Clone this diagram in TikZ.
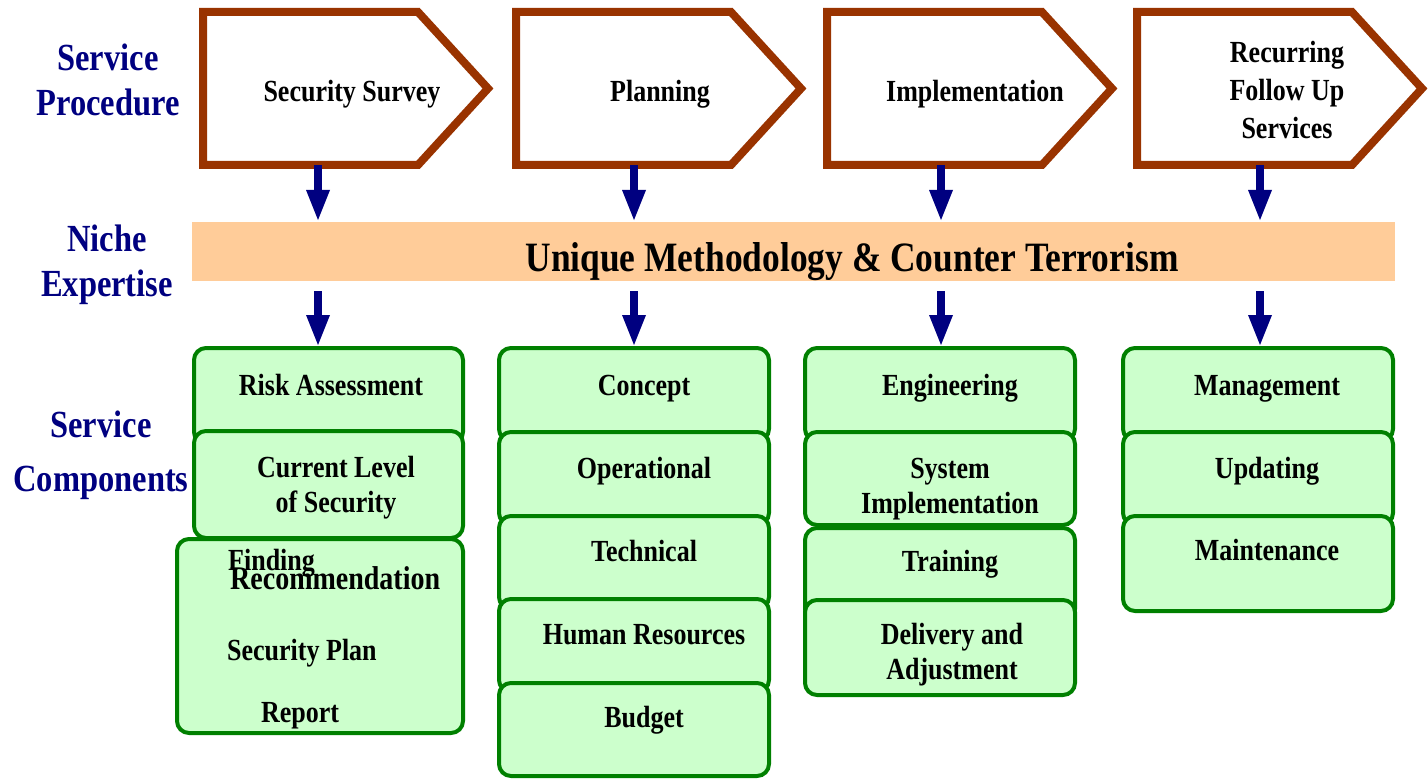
\documentclass[tikz,border=0pt]{standalone}
\usepackage{fontspec}
\setmainfont{Liberation Serif}
\usetikzlibrary{arrows.meta,calc}
\definecolor{brownc}{HTML}{993300}
\definecolor{barc}{HTML}{FFCC99}
\definecolor{greenfill}{HTML}{CCFFCC}
\definecolor{greenline}{HTML}{008000}
\definecolor{navyc}{HTML}{000080}
\newcommand\stx[2][1.18]{\scalebox{1}[#1]{\begin{tabular}{@{}c@{}}#2\end{tabular}}}
\tikzset{
  pbody/.style={minimum width=215pt, minimum height=153pt, inner sep=0pt, outer sep=0pt},
  pentline/.style={draw=brownc, line width=8pt, fill=white},
  gbox/.style={draw=greenline, fill=greenfill, line width=4pt, rounded corners=12pt, inner sep=0pt, outer sep=0pt, minimum width=270pt},
  boxtxt/.style={font=\fontsize{26}{30}\selectfont\bfseries, inner sep=0pt, yshift=-3pt},
  ptxt/.style={font=\fontsize{26}{32}\selectfont\bfseries, inner sep=0pt, yshift=-3pt},
  sidetxt/.style={font=\fontsize{32.5}{38}\selectfont\bfseries, text=navyc, inner sep=0pt, yshift=-4pt},
  sidetxtb/.style={font=\fontsize{32.5}{46}\selectfont\bfseries, text=navyc, inner sep=0pt, yshift=-3pt},
  bartxt/.style={font=\fontsize{35.4}{40}\selectfont\bfseries, inner sep=0pt, yshift=-4pt},
  arr/.style={draw=navyc, line width=8pt, -{Triangle[width=24pt,length=30pt,line width=0pt]}},
}
\begin{document}
\begin{tikzpicture}[x=1pt,y=-1pt]
\useasboundingbox (0,0) rectangle (1428,781);

% side labels
\node[sidetxt] (lab1) at (108,80) {\stx{Service\\Procedure}};
\node[sidetxt] (lab2) at (107,261) {\stx{Niche\\Expertise}};
\node[sidetxtb] (lab3) at (101,451) {\stx{Service\\Components}};

% procedure pentagons
\node[pbody] (p1) at (310.5,88.5) {};
\node[pbody] (p2) at (623.5,88.5) {};
\node[pbody] (p3) at (934.5,88.5) {};
\node[pbody] (p4) at (1244.5,88.5) {};
\foreach \p in {p1,p2,p3,p4}{
  \draw[pentline] (\p.north west) -- (\p.north east) -- ($(\p.east)+(70,0)$) -- (\p.south east) -- (\p.south west) -- cycle;
}
\node[ptxt] (p1t) at (352,91) {\stx{Security Survey}};
\node[ptxt] (p2t) at (660,91) {\stx{Planning}};
\node[ptxt] (p3t) at (975,91) {\stx{Implementation}};
\node[ptxt] (p4t) at (1287,90) {\stx{Recurring\\Follow Up\\Services}};

% niche bar
\node[fill=barc, minimum width=1203pt, minimum height=59pt, inner sep=0pt, outer sep=0pt] (bar) at (793.5,251.5) {};
\node[bartxt] (bart) at (852,258) {\stx{Unique Methodology \& Counter Terrorism}};

% column 1
\node[gbox, minimum width=269pt, minimum height=96pt] (c1a) at (328.5,396) {};
\node[gbox, minimum width=269pt, minimum height=107pt] (c1b) at (328.5,484.5) {};
\node[gbox, minimum width=286pt, minimum height=194pt] (c1c) at (320,636) {};
\node[boxtxt] (c1at) at (331,385) {\stx{Risk Assessment}};
\node[boxtxt] (c1bt) at (336,485) {\stx{Current Level\\of Security}};
\node[boxtxt, anchor=west] (c1ct1) at (228,560) {\stx{Finding}};
\node[boxtxt, anchor=west, font=\fontsize{28}{30}\selectfont\bfseries] (c1ct2) at (230,579) {\stx{Recommendation}};
\node[boxtxt, anchor=west] (c1ct3) at (227,650) {\stx{Security Plan}};
\node[boxtxt] (c1ct4) at (300,712) {\stx{Report}};

% column 2
\node[gbox, minimum height=93pt] (c2a) at (634,394.5) {};
\node[gbox, minimum height=93pt] (c2b) at (634,478.5) {};
\node[gbox, minimum height=93pt] (c2c) at (634,562.5) {};
\node[gbox, minimum height=93pt] (c2d) at (634,645.5) {};
\node[gbox, minimum height=93pt] (c2e) at (634,729.5) {};
\node[boxtxt] (c2at) at (644,385) {\stx{Concept}};
\node[boxtxt] (c2bt) at (644,468) {\stx{Operational}};
\node[boxtxt] (c2ct) at (644,551) {\stx{Technical}};
\node[boxtxt] (c2dt) at (644,634) {\stx{Human Resources}};
\node[boxtxt] (c2et) at (644,717) {\stx{Budget}};

% column 3
\node[gbox, minimum height=93pt] (c3a) at (940,394.5) {};
\node[gbox, minimum height=93pt] (c3b) at (940,478.5) {};
\node[gbox, minimum height=93pt] (c3c) at (940,574.5) {};
\node[gbox, minimum height=95pt] (c3d) at (940,647.5) {};
\node[boxtxt] (c3at) at (950,385) {\stx{Engineering}};
\node[boxtxt] (c3bt) at (950,486) {\stx{System\\Implementation}};
\node[boxtxt] (c3ct) at (950,561) {\stx{Training}};
\node[boxtxt] (c3dt) at (952,652) {\stx{Delivery and\\Adjustment}};

% column 4
\node[gbox, minimum height=93pt] (c4a) at (1258,394.5) {};
\node[gbox, minimum height=93pt] (c4b) at (1258,478.5) {};
\node[gbox, minimum height=95pt] (c4c) at (1258,563.5) {};
\node[boxtxt] (c4at) at (1267,385) {\stx{Management}};
\node[boxtxt] (c4bt) at (1267,468) {\stx{Updating}};
\node[boxtxt] (c4ct) at (1267,550) {\stx{Maintenance}};

% arrows: procedure -> niche bar
\coordinate (t1) at ([xshift=7.5pt]p1.south);
\coordinate (t2) at ([xshift=10.5pt]p2.south);
\coordinate (t3) at ([xshift=6.5pt]p3.south);
\coordinate (t4) at ([xshift=15.5pt]p4.south);
\foreach \t in {t1,t2,t3,t4}{
  \coordinate (\t e) at (\t |- bar.north);
  \draw[arr] (\t) -- ([yshift=2pt]\t e);
}

% arrows: niche bar -> components
\coordinate (b1) at ([xshift=-10.5pt,yshift=3pt]c1a.north);
\coordinate (b2) at ([yshift=3pt]c2a.north);
\coordinate (b3) at ([xshift=1pt,yshift=3pt]c3a.north);
\coordinate (b4) at ([xshift=2pt,yshift=3pt]c4a.north);
\foreach \b in {b1,b2,b3,b4}{
  \coordinate (\b s) at (\b |- bar.south);
  \draw[arr] ([yshift=-10pt]\b s) -- (\b);
}
\end{tikzpicture}
\end{document}
